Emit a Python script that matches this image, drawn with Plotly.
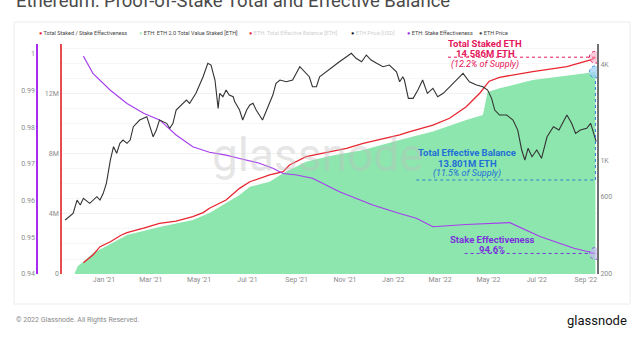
import plotly.graph_objects as go

# ---------------- data ----------------
price_dates = [
    "2020-11-13", "2020-11-23", "2020-11-28", "2020-12-02", "2020-12-06", "2020-12-14", "2020-12-23", "2020-12-27", "2020-12-31",
    "2021-01-04", "2021-01-09", "2021-01-13", "2021-01-17", "2021-01-21", "2021-01-25", "2021-01-30", "2021-02-03", "2021-02-07",
    "2021-02-11", "2021-02-15", "2021-02-24", "2021-02-28",
    "2021-03-04", "2021-03-08", "2021-03-12", "2021-03-21", "2021-03-25", "2021-03-29", "2021-04-02", "2021-04-15", "2021-04-19", "2021-04-27",
    "2021-05-06", "2021-05-12", "2021-05-16", "2021-05-21", "2021-05-25", "2021-05-27", "2021-05-31", "2021-06-04", "2021-06-08",
    "2021-06-13", "2021-06-15", "2021-06-21", "2021-06-25", "2021-06-30",
    "2021-07-04", "2021-07-08", "2021-07-12", "2021-07-20", "2021-07-25", "2021-08-02", "2021-08-06", "2021-08-11", "2021-08-19", "2021-08-27",
    "2021-09-05", "2021-09-09", "2021-09-17", "2021-09-21", "2021-09-26", "2021-09-30", "2021-10-08", "2021-10-16", "2021-10-25",
    "2021-11-03", "2021-11-09", "2021-11-15", "2021-11-22", "2021-11-28",
    "2021-12-04", "2021-12-11", "2021-12-19", "2021-12-27", "2022-01-05", "2022-01-09", "2022-01-13", "2022-01-15", "2022-01-20", "2022-01-26",
    "2022-02-01", "2022-02-07", "2022-02-13", "2022-02-20", "2022-02-26", "2022-03-05", "2022-03-13", "2022-03-21", "2022-03-30",
    "2022-04-07", "2022-04-16", "2022-04-24", "2022-04-30",
    "2022-05-05", "2022-05-09", "2022-05-15", "2022-05-24", "2022-06-01", "2022-06-07", "2022-06-12", "2022-06-16", "2022-06-20",
    "2022-06-25", "2022-07-01", "2022-07-07", "2022-07-14", "2022-07-22", "2022-07-29",
    "2022-08-04", "2022-08-08", "2022-08-14", "2022-08-19", "2022-08-25", "2022-09-02", "2022-09-07", "2022-09-11", "2022-09-14",
]
price_usd = [
    430, 473, 572, 533, 586, 546, 600, 572, 630,
    727, 1014, 1227, 1116, 1288, 1350, 1288, 1350, 1633, 1715, 1798, 1885, 1633,
    1415, 1557, 1798, 1715, 1596, 1715, 2074, 2393, 2282, 2633,
    3339, 4045, 3947, 3185, 2125, 2633, 2508, 2761, 2570, 2508, 2335, 2074, 1798, 2074,
    2228, 2282, 2074, 1798, 2074, 2570, 3038, 3185, 3108, 3185,
    3853, 3674, 3339, 2894, 2894, 3339, 3587, 3853, 4139, 4444, 4666, 4344, 4139, 4554,
    4240, 4045, 3853, 3947, 3587, 3108, 3339, 3185, 2451, 2451,
    2761, 3185, 2633, 2829, 2508, 2633, 2894, 3185, 3504, 3108, 2965, 2894, 2761,
    2451, 2074, 1931, 1931, 1798, 1557, 1170, 1014, 1199, 1063, 1170, 1039, 1415, 1633, 1557,
    1798, 1931, 1715, 1486, 1557, 1596, 1715, 1486, 1318,
]

staked_dates = [
    "2020-12-06", "2020-12-18", "2020-12-27", "2021-01-09", "2021-01-23", "2021-01-30", "2021-02-20", "2021-03-12",
    "2021-04-02", "2021-04-23", "2021-05-06", "2021-05-14", "2021-06-04", "2021-06-21", "2021-07-04", "2021-07-29",
    "2021-08-15", "2021-08-23", "2021-09-13", "2021-10-13", "2021-11-03", "2021-11-24", "2021-12-15", "2022-01-09",
    "2022-01-22", "2022-02-20", "2022-03-13", "2022-04-03", "2022-04-20", "2022-05-02", "2022-05-15", "2022-06-26",
    "2022-08-08", "2022-09-09", "2022-09-13",
]
staked_m = [
    0.75, 1.27, 1.82, 2.15, 2.6, 2.75, 3.05, 3.38,
    3.53, 3.82, 4.09, 4.38, 4.93, 5.71, 6.15, 6.6,
    6.82, 7.27, 7.82, 8.15, 8.38, 8.71, 8.98, 9.27,
    9.49, 9.93, 10.38, 11.15, 12.05, 12.85, 13.11, 13.49,
    13.82, 14.31, 14.45,
]

eff_dates = [
    "2020-11-25", "2020-11-29", "2020-12-06", "2020-12-18", "2021-01-09", "2021-01-30", "2021-03-12", "2021-04-23",
    "2021-05-14", "2021-06-21", "2021-07-04", "2021-07-29", "2021-08-15", "2021-09-01", "2021-09-13", "2021-10-13",
    "2021-11-24", "2022-01-09", "2022-02-20", "2022-04-03", "2022-04-24", "2022-04-30", "2022-05-15", "2022-06-26",
    "2022-08-08", "2022-09-10", "2022-09-13",
]
eff_m = [
    0.05, 0.53, 0.82, 1.38, 2.0, 2.6, 3.13, 3.6,
    4.07, 5.27, 5.82, 6.15, 6.71, 7.15, 7.49, 7.87,
    8.27, 8.93, 9.49, 10.27, 10.6, 12.13, 12.38, 12.93,
    13.2, 13.42, 13.47,
]

ratio_dates = [
    "2020-12-06", "2020-12-18", "2021-01-09", "2021-01-30", "2021-02-20", "2021-03-12", "2021-04-02", "2021-04-23",
    "2021-05-14", "2021-06-04", "2021-06-21", "2021-07-16", "2021-08-02", "2021-08-15", "2021-09-01", "2021-09-21",
    "2021-10-25", "2021-12-06", "2022-01-09", "2022-01-30", "2022-02-20", "2022-04-03", "2022-05-28", "2022-07-05",
    "2022-08-17", "2022-09-10", "2022-09-13",
]
ratio = [
    0.9994, 0.9947, 0.9901, 0.9865, 0.9838, 0.9820, 0.9779, 0.9747,
    0.9732, 0.9724, 0.9715, 0.9702, 0.9688, 0.9674, 0.9670, 0.9661,
    0.9624, 0.9588, 0.9565, 0.9552, 0.9529, 0.9535, 0.9540, 0.9502,
    0.9470, 0.9458, 0.9456,
]

ratio_ticks = [0.94, 0.95, 0.96, 0.97, 0.98, 0.99, 1.0]
ratio_ticktext = ["0.94", "0.95", "0.96", "0.97", "0.98", "0.99", "1"]
staked_ticks = [0, 4e6, 8e6, 12e6]
staked_ticktext = ["0", "4M", "8M", "12M"]
price_ticks = [200, 600, 1000, 4000]
price_ticktext = ["200", "600", "1K", "4K"]

total_staked_label = "14.586M"
total_staked_pct = "12.2%"
eff_balance_label = "13.801M"
eff_balance_pct = "11.5%"
effectiveness_label = "94.6%"

TITLE = "Ethereum: Proof-of-Stake Total and Effective Balance"

# ---------------- styling ----------------
RED = "#e8262f"
GREEN_FILL = "#8de6ae"
PURPLE = "#a63cee"
PRICE = "#333333"
PINK = "#e5165c"
BLUE = "#1f6fd6"
VIOLET = "#7a30dc"
TICK = "#8c8c8c"
FONT = "Roboto"

W, H = 640, 339
ML, MR, MT, MB = 37, 43, 44, 65
PW, PH = W - ML - MR, H - MT - MB


def px_x(px):
    return (px - ML) / PW


def px_y(py):
    return (H - MB - py) / PH


fig = go.Figure()

fig.add_trace(go.Scatter(
    x=eff_dates, y=[v * 1e6 for v in eff_m], mode="lines",
    line=dict(width=0, color=GREEN_FILL), fill="tozeroy", fillcolor=GREEN_FILL,
    yaxis="y", hoverinfo="skip"))
fig.add_trace(go.Scatter(
    x=staked_dates, y=[v * 1e6 for v in staked_m], mode="lines",
    line=dict(width=1.3, color=RED), yaxis="y"))
fig.add_trace(go.Scatter(
    x=ratio_dates, y=ratio, mode="lines",
    line=dict(width=1.1, color=PURPLE), yaxis="y2"))
fig.add_trace(go.Scatter(
    x=price_dates, y=price_usd, mode="lines",
    line=dict(width=1.1, color=PRICE), yaxis="y3"))

tickfont = dict(family=FONT, size=7, color=TICK)

fig.update_layout(
    width=W, height=H,
    margin=dict(l=ML, r=MR, t=MT, b=MB),
    paper_bgcolor="white", plot_bgcolor="white",
    showlegend=False,
    font=dict(family=FONT),
    xaxis=dict(
        type="date", domain=[px_x(62), 1],
        range=["2020-11-09", "2022-09-15"],
        tick0="2021-01-01", dtick="M2", tickformat="%b '%y",
        showgrid=False, zeroline=False, showline=False, ticks="",
        tickfont=tickfont,
    ),
    yaxis=dict(
        range=[0, 15.33e6], tickvals=staked_ticks, ticktext=staked_ticktext,
        showline=True, linecolor="#e84a52", linewidth=1.5,
        showgrid=True, gridcolor="#f2f2f2", gridwidth=1,
        minor=dict(dtick=1e6, showgrid=True, gridcolor="#f6f6f6"),
        zeroline=False, ticks="", tickfont=tickfont, automargin=False,
    ),
    yaxis2=dict(
        overlaying="y", anchor="free", position=0, side="left",
        range=[0.94, 1.0027], tickvals=ratio_ticks, ticktext=ratio_ticktext,
        showline=True, linecolor="#a72cf0", linewidth=1.5,
        showgrid=False, zeroline=False, ticks="", tickfont=tickfont, automargin=False,
    ),
    yaxis3=dict(
        overlaying="y", anchor="x", side="right", type="log",
        range=[2.298, 3.727], tickvals=price_ticks, ticktext=price_ticktext,
        showline=True, linecolor="#707070", linewidth=2,
        showgrid=False, zeroline=False, ticks="", tickfont=tickfont, automargin=False,
    ),
)

shapes = []
# card frame
shapes.append(dict(type="rect", xref="paper", yref="paper",
                   x0=px_x(14), x1=px_x(630), y0=px_y(304), y1=px_y(22),
                   line=dict(color="#ececec", width=1), fillcolor="rgba(0,0,0,0)", layer="below"))
# guide lines
shapes.append(dict(type="line", xref="x", yref="y",
                   x0="2022-03-11", x1=staked_dates[-1],
                   y0=staked_m[-1] * 1e6, y1=staked_m[-1] * 1e6,
                   line=dict(color=PINK, width=1, dash="dot")))
shapes.append(dict(type="line", xref="x", yref="paper",
                   x0="2022-01-30", x1=eff_dates[-1], y0=px_y(180), y1=px_y(180),
                   line=dict(color="#2a7fd0", width=1, dash="dot")))
shapes.append(dict(type="line", xref="x", yref="paper",
                   x0=eff_dates[-1], x1=eff_dates[-1], y0=px_y(180), y1=px_y(74),
                   line=dict(color="#2a7fd0", width=1, dash="dot")))
shapes.append(dict(type="line", xref="x", yref="y2",
                   x0="2022-04-01", x1=ratio_dates[-1], y0=ratio[-1], y1=ratio[-1],
                   line=dict(color=VIOLET, width=1, dash="dot")))
# end-point circles
for xa, ya, yref, fc, lc in [
    (staked_dates[-1], staked_m[-1] * 1e6, "y", "rgba(244,160,190,0.55)", PINK),
    (eff_dates[-1], eff_m[-1] * 1e6, "y", "rgba(160,210,245,0.75)", "#3b8de0"),
    (ratio_dates[-1], ratio[-1], "y2", "rgba(200,180,245,0.6)", "#8a5ce0"),
]:
    shapes.append(dict(type="circle", xref="x", yref=yref,
                       xsizemode="pixel", ysizemode="pixel",
                       xanchor=xa, yanchor=ya, x0=-6, x1=6, y0=-6, y1=6,
                       fillcolor=fc, line=dict(color=lc, width=1, dash="dot")))
fig.update_layout(shapes=shapes)

ann = []


def add_text(text, px, py, size, color, xanchor="center", yanchor="middle", family=FONT):
    ann.append(dict(text=text, x=px_x(px), y=px_y(py), xref="paper", yref="paper",
                    xanchor=xanchor, yanchor=yanchor, showarrow=False,
                    font=dict(family=family, size=size, color=color)))


# watermark
add_text("glassnode", 318, 155, 46, "rgba(190,190,190,0.38)")
# title (cut off at top, as in the reference)
add_text(TITLE, 14, 1, 18.5, "#4a4a4a", xanchor="left")
# legend row
legend_items = [
    (40, RED, "Total Staked / Stake Effectiveness", "#444"),
    (140, "#a8ecc4", "ETH: ETH 2.0 Total Value Staked [ETH]", "#444"),
    (250, RED, "ETH: Total Effective Balance [ETH]", "#d0d0d0"),
    (352, "#222", "ETH Price [USD]", "#d0d0d0"),
    (408, "#9b30f0", "ETH: Stake Effectiveness", "#444"),
    (480, "#444", "ETH Price", "#444"),
]
for lx, dc, lt, tc in legend_items:
    add_text(f"<span style='color:{dc}'>●</span> <span style='color:{tc}'>{lt}</span>",
             lx - 3, 33, 5.5, tc, xanchor="left")

# callouts
add_text("<b>Total Staked ETH</b>", 485, 43, 9.5, PINK)
add_text(f"<b>{total_staked_label} ETH</b>", 485, 54, 9.5, PINK)
add_text(f"<i>({total_staked_pct} of Supply)</i>", 485, 64, 9, PINK)
add_text("<b>Total Effective Balance</b>", 467, 152, 9.5, BLUE)
add_text(f"<b>{eff_balance_label} ETH</b>", 467, 163, 9.5, BLUE)
add_text(f"<i>({eff_balance_pct} of Supply)</i>", 467, 173, 9, BLUE)
add_text("<b>Stake Effectiveness</b>", 492, 239, 9.5, VIOLET)
add_text(f"<b>{effectiveness_label}</b>", 492, 249, 9.5, VIOLET)

# footer
add_text("© 2022 Glassnode. All Rights Reserved.", 14, 320, 7, "#8a8a8a", xanchor="left")
add_text("glassnode", 629, 320, 13, "#111", xanchor="right")

fig.update_layout(annotations=ann)

fig.write_html("out.html")
